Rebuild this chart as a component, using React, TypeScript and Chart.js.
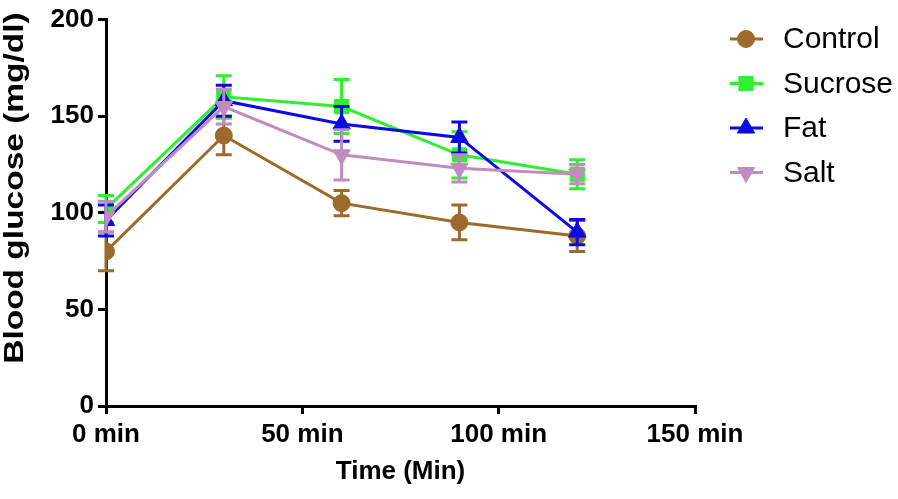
import React, { useEffect, useRef } from "react";
import { Chart, registerables } from "chart.js";

Chart.register(...registerables);

const timePoints = [0, 30, 60, 90, 120];
const xTicks = [0, 50, 100, 150];
const yTicks = [0, 50, 100, 150, 200];

const seriesNames = ["Control", "Sucrose", "Fat", "Salt"];
const controlMean = [80, 140, 105, 95, 88];
const controlErr = [10, 10, 6.5, 9, 8];
const sucroseMean = [102, 160, 155, 130, 120];
const sucroseErr = [7, 11, 14, 12, 7.5];
const fatMean = [96, 158, 146, 139, 90];
const fatErr = [8, 8, 9, 8, 6.5];
const saltMean = [98, 155, 130, 123, 120];
const saltErr = [8, 9, 13, 7, 5];

const yTitle = "Blood glucose (mg/dl)";
const xTitle = "Time (Min)";

const colors = ["#9c6a2a", "#2ef02e", "#0a0ae8", "#c08cc0"];
const pointStyles = ["circle", "rect", "triangle", "triangle"];
const pointRotations = [0, 0, 0, 180];
const pointRadii = [8.5, 10, 10, 10];

const means = [controlMean, sucroseMean, fatMean, saltMean];
const errs = [controlErr, sucroseErr, fatErr, saltErr];

const FONT = "'Liberation Sans', Arial, sans-serif";

const errorBarPlugin = {
  id: "errorBars",
  beforeDatasetDraw(chart: any, args: any) {
    const i = args.index;
    const meta = args.meta;
    const yScale = chart.scales.y;
    const ctx = chart.ctx;
    ctx.save();
    ctx.strokeStyle = colors[i];
    ctx.lineWidth = 3;
    const cap = 8;
    meta.data.forEach((pt: any, j: number) => {
      const v = means[i][j];
      const e = errs[i][j];
      const x = pt.x;
      const yTop = yScale.getPixelForValue(v + e);
      const yBot = yScale.getPixelForValue(v - e);
      ctx.beginPath();
      ctx.moveTo(x, yTop);
      ctx.lineTo(x, yBot);
      ctx.moveTo(x - cap, yTop);
      ctx.lineTo(x + cap, yTop);
      ctx.moveTo(x - cap, yBot);
      ctx.lineTo(x + cap, yBot);
      ctx.stroke();
    });
    ctx.restore();
  },
};

function drawMarker(ctx: CanvasRenderingContext2D, style: string, x: number, y: number, r: number, rot: number, color: string) {
  ctx.save();
  ctx.fillStyle = color;
  ctx.strokeStyle = color;
  ctx.lineWidth = 1;
  ctx.beginPath();
  if (style === "circle") {
    ctx.arc(x, y, r, 0, Math.PI * 2);
  } else if (style === "rect") {
    const s = Math.SQRT1_2 * r;
    ctx.rect(x - s, y - s, 2 * s, 2 * s);
  } else {
    const a = (rot * Math.PI) / 180;
    for (let k = 0; k < 3; k++) {
      const ang = a + (k * 2 * Math.PI) / 3;
      const px = x + Math.sin(ang) * r;
      const py = y - Math.cos(ang) * r;
      if (k === 0) ctx.moveTo(px, py);
      else ctx.lineTo(px, py);
    }
    ctx.closePath();
  }
  ctx.fill();
  ctx.stroke();
  ctx.restore();
}

const legendPlugin = {
  id: "customLegend",
  afterDraw(chart: any) {
    const ctx = chart.ctx;
    ctx.save();
    const lineX0 = 730;
    const lineX1 = 763;
    const markX = 746;
    const textX = 783;
    const rowY0 = 39;
    const rowGap = 44.5;
    seriesNames.forEach((name, i) => {
      const y = rowY0 + i * rowGap;
      ctx.strokeStyle = colors[i];
      ctx.lineWidth = 3;
      ctx.beginPath();
      ctx.moveTo(lineX0, y);
      ctx.lineTo(lineX1, y);
      ctx.stroke();
      drawMarker(ctx, pointStyles[i], markX, y, pointRadii[i], pointRotations[i], colors[i]);
      ctx.fillStyle = "#000";
      ctx.font = `30px ${FONT}`;
      ctx.textBaseline = "middle";
      ctx.textAlign = "left";
      ctx.fillText(name, textX, y + 1);
    });
    ctx.restore();
  },
};

const yTitlePlugin = {
  id: "yTitle",
  afterDraw(chart: any) {
    const ctx = chart.ctx;
    ctx.save();
    ctx.translate(16, 188);
    ctx.rotate(-Math.PI / 2);
    ctx.scale(1.24, 1);
    ctx.font = `bold 27px ${FONT}`;
    ctx.fillStyle = "#000";
    ctx.textAlign = "center";
    ctx.textBaseline = "middle";
    ctx.fillText(yTitle, 0, 0);
    ctx.restore();
  },
};

export default function App() {
  const ref = useRef<HTMLCanvasElement>(null);

  useEffect(() => {
    if (!ref.current) return;
    const datasets = seriesNames.map((name, i) => ({
      label: name,
      data: timePoints.map((t, j) => ({ x: t, y: means[i][j] })),
      borderColor: colors[i],
      backgroundColor: colors[i],
      borderWidth: 3,
      pointStyle: pointStyles[i],
      pointRotation: pointRotations[i],
      pointRadius: pointRadii[i],
      pointBorderWidth: 1,
      pointBackgroundColor: colors[i],
      pointBorderColor: colors[i],
      tension: 0,
      order: 4 - i,
    }));

    const chart = new Chart(ref.current, {
      type: "line",
      data: { datasets },
      plugins: [errorBarPlugin, legendPlugin, yTitlePlugin],
      options: {
        responsive: false,
        animation: false,
        layout: { padding: { top: 16, right: 203, left: 0, bottom: 0 } },
        plugins: {
          legend: { display: false },
          tooltip: { enabled: false },
        },
        scales: {
          x: {
            type: "linear",
            min: 0,
            max: 150,
            afterBuildTicks(scale: any) {
              scale.ticks = xTicks.map((v) => ({ value: v }));
            },
            afterFit(scale: any) {
              scale.height = 93;
            },
            border: { display: true, color: "#000", width: 3 },
            grid: {
              display: true,
              drawOnChartArea: false,
              drawTicks: true,
              tickLength: 8,
              lineWidth: 3,
              color: "#000",
            },
            ticks: {
              color: "#000",
              padding: 5,
              maxRotation: 0,
              autoSkip: false,
              font: { family: FONT, size: 26, weight: "bold" },
              callback: (v: any) => `${v} min`,
            },
            title: {
              display: true,
              text: xTitle,
              color: "#000",
              font: { family: FONT, size: 26, weight: "bold" },
              padding: { top: 0, bottom: 12 },
            },
          },
          y: {
            type: "linear",
            min: 0,
            max: 200,
            afterBuildTicks(scale: any) {
              scale.ticks = yTicks.map((v) => ({ value: v }));
            },
            afterFit(scale: any) {
              scale.width = 106;
            },
            border: { display: true, color: "#000", width: 3 },
            grid: {
              display: true,
              drawOnChartArea: false,
              drawTicks: true,
              tickLength: 8,
              lineWidth: 3,
              color: "#000",
            },
            ticks: {
              color: "#000",
              padding: 4,
              autoSkip: false,
              font: { family: FONT, size: 26, weight: "bold" },
            },
            title: { display: false },
          },
        },
      } as any,
    });
    return () => chart.destroy();
  }, []);

  return (
    <div style={{ position: "fixed", left: 0, top: 0, width: 898, height: 499, background: "#fff" }}>
      <canvas ref={ref} width={898} height={499} style={{ display: "block" }} />
    </div>
  );
}
